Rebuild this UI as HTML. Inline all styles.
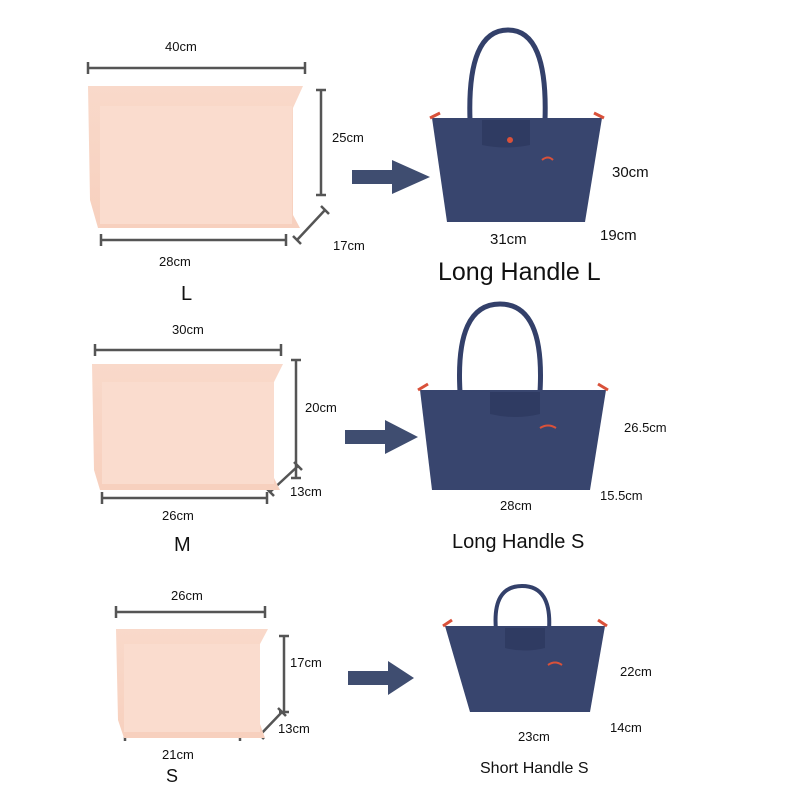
<!DOCTYPE html>
<html><head><meta charset="utf-8"><style>
html,body{margin:0;padding:0;background:#fff;}
svg{display:block;}
text{font-family:"Liberation Sans",sans-serif;fill:#111;}
</style></head><body>
<svg width="800" height="800" viewBox="0 0 800 800" xmlns="http://www.w3.org/2000/svg">
<defs>
<linearGradient id="pk" x1="0" y1="0" x2="0" y2="1"><stop offset="0" stop-color="#f9d9ca"/><stop offset="1" stop-color="#f7d0be"/></linearGradient>
</defs>
<g stroke="#555" stroke-width="2.5" fill="none">
<path d="M88 68H305M88 62V74M305 62V74"/>
<path d="M321 90V195M316 90H326M316 195H326"/>
<path d="M297 240L325 210M293 236L301 244M321 206L329 214"/>
<path d="M101 240H286M101 234V246M286 234V246"/>
<path d="M95 350H281M95 344V356M281 344V356"/>
<path d="M296 360V478M291 360H301M291 478H301"/>
<path d="M270 492L298 466M266 488L274 496M294 462L302 470"/>
<path d="M102 498H267M102 492V504M267 492V504"/>
<path d="M116 612H265M116 606V618M265 606V618"/>
<path d="M284 636V712M279 636H289M279 712H289"/>
<path d="M260 735L282 712M256 731L264 739M278 708L286 716"/>
<path d="M125 735H240M125 729V741M240 729V741"/>
</g>
<path d="M88 86H303L293 108V215L300 228H98L90 200Z" fill="url(#pk)"/>
<rect x="100" y="106" width="192" height="118" fill="#fadcce"/>
<path d="M92 364H283L274 382V478L280 490H100L94 470Z" fill="url(#pk)"/>
<rect x="102" y="382" width="172" height="102" fill="#fadcce"/>
<path d="M116 629H268L260 644V724L265 738H124L118 720Z" fill="url(#pk)"/>
<rect x="124" y="644" width="136" height="88" fill="#fadcce"/>
<g fill="#3f4d70">
<path d="M352 170H392V160L430 177L392 194V184H352Z"/>
<path d="M345 430H385V420L418 437L385 454V444H345Z"/>
<path d="M348 671H388V661L414 678L388 695V685H348Z"/>
</g>
<g>
<path d="M470 120Q467 30 508 30Q548 30 545 120" stroke="#33406a" stroke-width="5" fill="none"/>
<path d="M432 118H602L585 222H447Z" fill="#38456e"/>
<path d="M430 118L440 113M604 118L594 113" stroke="#d9513a" stroke-width="3"/>
<path d="M482 120H530V145Q506 150 482 145Z" fill="#2f3b62"/>
<circle cx="510" cy="140" r="3" fill="#d9513a"/>
<path d="M542 160Q548 155 553 160" stroke="#d9513a" stroke-width="2" fill="none"/>
</g>
<g>
<path d="M460 392Q455 304 500 304Q545 304 540 392" stroke="#33406a" stroke-width="5" fill="none"/>
<path d="M420 390H606L590 490H432Z" fill="#38456e"/>
<path d="M418 390L428 384M608 390L598 384" stroke="#d9513a" stroke-width="3"/>
<path d="M490 392H540V414Q515 420 490 414Z" fill="#2f3b62"/>
<path d="M540 428Q548 423 556 428" stroke="#d9513a" stroke-width="2" fill="none"/>
</g>
<g>
<path d="M496 630Q492 586 522 586Q552 586 549 630" stroke="#33406a" stroke-width="4" fill="none"/>
<path d="M445 626H605L590 712H470Z" fill="#38456e"/>
<path d="M443 626L452 620M607 626L598 620" stroke="#d9513a" stroke-width="3"/>
<path d="M505 628H545V648Q525 653 505 648Z" fill="#2f3b62"/>
<path d="M548 665Q555 660 562 665" stroke="#d9513a" stroke-width="2" fill="none"/>
</g>
<g font-size="13">
<text x="165" y="51">40cm</text>
<text x="332" y="142">25cm</text>
<text x="333" y="250">17cm</text>
<text x="159" y="266">28cm</text>
<text x="172" y="334">30cm</text>
<text x="305" y="412">20cm</text>
<text x="290" y="496">13cm</text>
<text x="162" y="520">26cm</text>
<text x="171" y="600">26cm</text>
<text x="290" y="667">17cm</text>
<text x="278" y="733">13cm</text>
<text x="162" y="759">21cm</text>
</g>
<text x="181" y="300" font-size="20">L</text>
<text x="174" y="551" font-size="20">M</text>
<text x="166" y="782" font-size="18">S</text>
<g font-size="15">
<text x="612" y="177">30cm</text>
<text x="490" y="244">31cm</text>
<text x="600" y="240">19cm</text>
</g>
<text x="438" y="280" font-size="25">Long Handle L</text>
<g font-size="13">
<text x="624" y="432">26.5cm</text>
<text x="500" y="510">28cm</text>
<text x="600" y="500">15.5cm</text>
<text x="620" y="676">22cm</text>
<text x="518" y="741">23cm</text>
<text x="610" y="732">14cm</text>
</g>
<text x="452" y="548" font-size="20">Long Handle S</text>
<text x="480" y="773" font-size="16">Short Handle S</text>
</svg>
</body></html>
